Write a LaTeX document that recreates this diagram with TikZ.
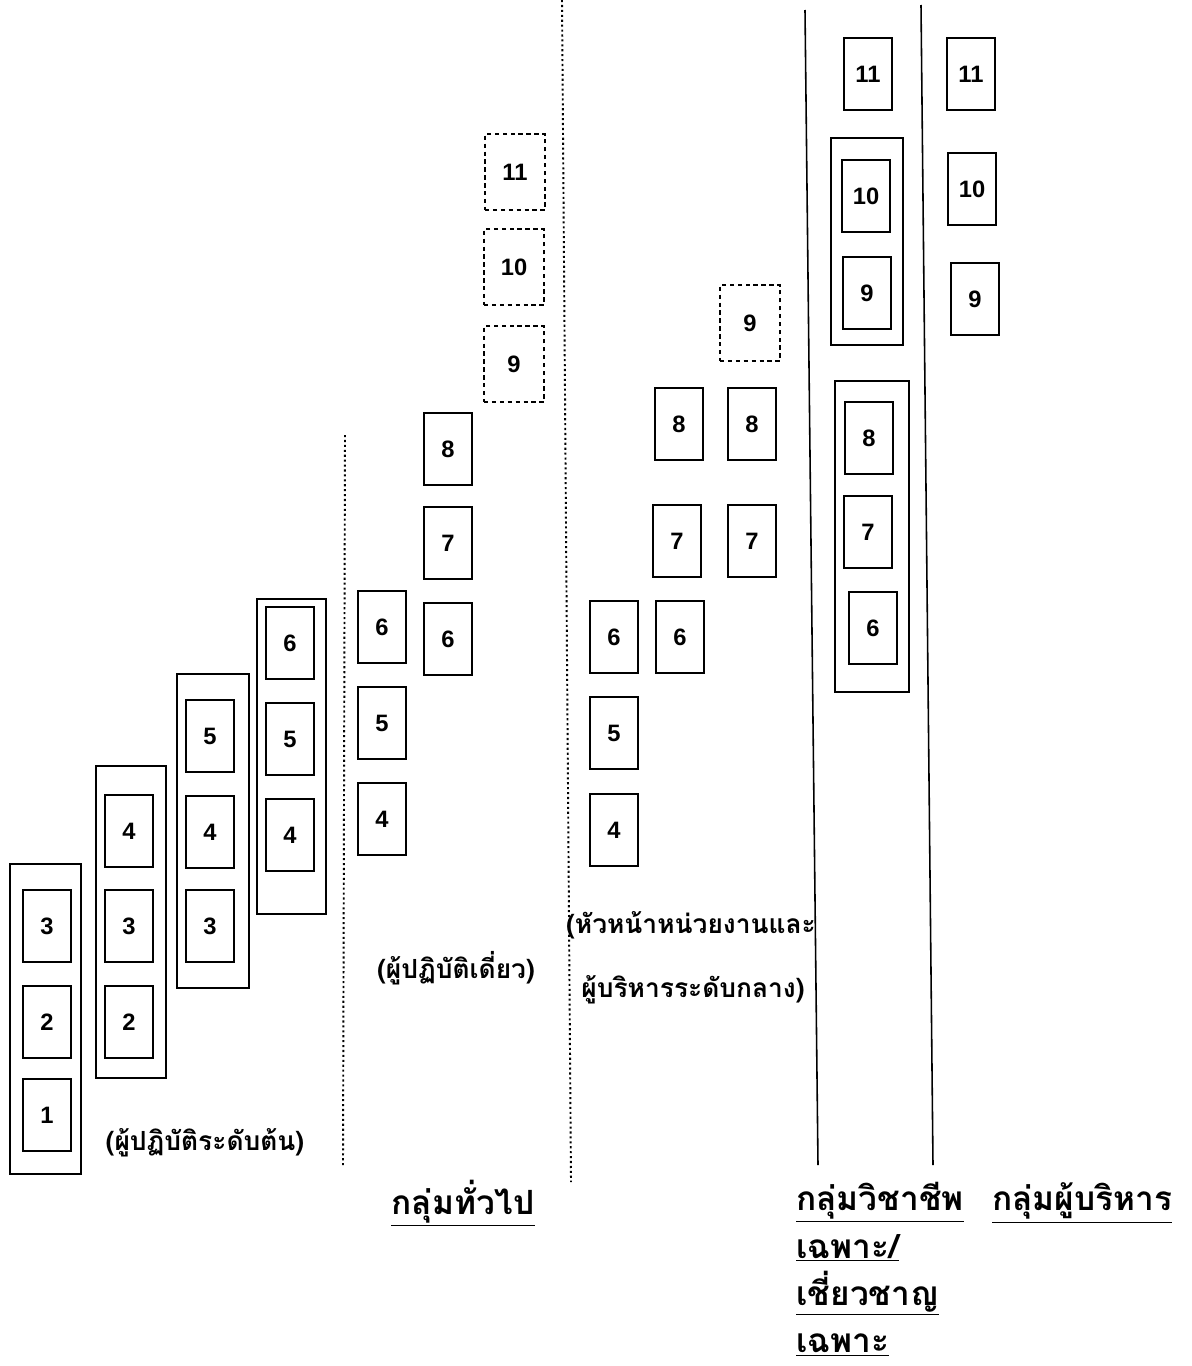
\documentclass[tikz,border=0pt]{standalone}
\usepackage{fontspec}
\usepackage{tikz}
\usetikzlibrary{positioning}
\newfontfamily\thaifont[Script=Thai]{Loma}
\newfontfamily\numfont{Liberation Sans}

\tikzset{
  lvl/.style={draw,line width=0.9pt,minimum width=0.96cm,minimum height=1.44cm,
    inner sep=0pt,font=\numfont\bfseries\fontsize{13.5}{15}\selectfont},
  lvlopen/.style={lvl,dash pattern=on 2.5pt off 2pt,minimum width=1.2cm,minimum height=1.52cm},
  grp/.style={draw,line width=0.9pt,inner sep=0pt},
  sublabel/.style={font=\thaifont\bfseries\fontsize{15}{18}\selectfont,inner sep=0pt},
  headlabel/.style={font=\thaifont\bfseries\fontsize{19}{27}\selectfont,inner sep=0pt,align=left},
  divider/.style={line width=0.9pt},
  softdivider/.style={line width=1.1pt,dash pattern=on 1.2pt off 1.6pt}
}

\begin{document}
\begin{tikzpicture}[x=0.02cm,y=-0.02cm]
\useasboundingbox (0,0) rectangle (1192,1366);

% entry level steps
\node[grp,minimum width=1.42cm,minimum height=6.2cm] (ga) at (45.5,1019) {};
\node[grp,minimum width=1.40cm,minimum height=6.24cm] (gb) at (131,922) {};
\node[grp,minimum width=1.44cm,minimum height=6.28cm] (gc) at (213,831) {};
\node[grp,minimum width=1.38cm,minimum height=6.3cm] (gd) at (291.5,756.5) {};
\node[lvl] (a3) at (47,926) {3};
\node[lvl] (a2) at (47,1022) {2};
\node[lvl] (a1) at (47,1115) {1};
\node[lvl] (b4) at (129,831) {4};
\node[lvl] (b3) at (129,926) {3};
\node[lvl] (b2) at (129,1022) {2};
\node[lvl] (c5) at (210,736) {5};
\node[lvl] (c4) at (210,832) {4};
\node[lvl] (c3) at (210,926) {3};
\node[lvl] (d6) at (290,643) {6};
\node[lvl] (d5) at (290,739) {5};
\node[lvl] (d4) at (290,835) {4};
\node[sublabel] (entry) at (205,1143) {(ผู้ปฏิบัติระดับต้น)};

% single practitioner
\node[lvl] (e6) at (382,627) {6};
\node[lvl] (e5) at (382,723) {5};
\node[lvl] (e4) at (382,819) {4};
\node[lvl] (f8) at (448,449) {8};
\node[lvl] (f7) at (448,543) {7};
\node[lvl] (f6) at (448,639) {6};
\node[lvlopen] (h11) at (515,172) {11};
\node[lvlopen] (h10) at (514,267) {10};
\node[lvlopen] (h9) at (514,364) {9};
\node[sublabel] (single) at (456,968) {(ผู้ปฏิบัติเดี่ยว)};

% heads and middle managers
\node[lvl] (m6) at (614,637) {6};
\node[lvl] (m5) at (614,733) {5};
\node[lvl] (m4) at (614,830) {4};
\node[lvl] (n8) at (679,424) {8};
\node[lvl] (n7) at (677,541) {7};
\node[lvl] (n6) at (680,637) {6};
\node[lvl] (p8) at (752,424) {8};
\node[lvl] (p7) at (752,541) {7};
\node[lvlopen] (p9) at (750,323) {9};
\node[sublabel] (head1) at (691,925) {(หัวหน้าหน่วยงานและ};
\node[sublabel] (head2) at (693,990) {ผู้บริหารระดับกลาง)};

% professional / expert
\node[grp,minimum width=1.44cm,minimum height=4.14cm] (gs1) at (867,241.5) {};
\node[grp,minimum width=1.48cm,minimum height=6.22cm] (gs2) at (872,536.5) {};
\node[lvl] (s11) at (868,74) {11};
\node[lvl] (s10) at (866,196) {10};
\node[lvl] (s9) at (867,293) {9};
\node[lvl] (s8) at (869,438) {8};
\node[lvl] (s7) at (868,532) {7};
\node[lvl] (s6) at (873,628) {6};

% executives
\node[lvl] (x11) at (971,74) {11};
\node[lvl] (x10) at (972,189) {10};
\node[lvl] (x9) at (975,299) {9};

% group dividers
\coordinate (v1t) at (345,435);
\coordinate (v1b) at (343,1165);
\coordinate (v2t) at (562,0);
\coordinate (v2b) at (571,1182);
\coordinate (v3t) at (805,10);
\coordinate (v3b) at (818,1165);
\coordinate (v4t) at (921,5);
\coordinate (v4b) at (933,1165);
\draw[softdivider] (v1t) -- (v1b);
\draw[softdivider] (v2t) -- (v2b);
\draw[divider] (v3t) -- (v3b);
\draw[divider] (v4t) -- (v4b);

% group names
\node[headlabel] (general) at (463,1203) {\underline{กลุ่มทั่วไป}};
\node[headlabel,anchor=north west] (prof) at (796,1182)
  {\underline{กลุ่มวิชาชีพ}\\\underline{เฉพาะ/}\\\underline{เชี่ยวชาญ}\\\underline{เฉพาะ}};
\node[headlabel] (exec) at (1082,1203) {\underline{กลุ่มผู้บริหาร}};
\end{tikzpicture}
\end{document}
